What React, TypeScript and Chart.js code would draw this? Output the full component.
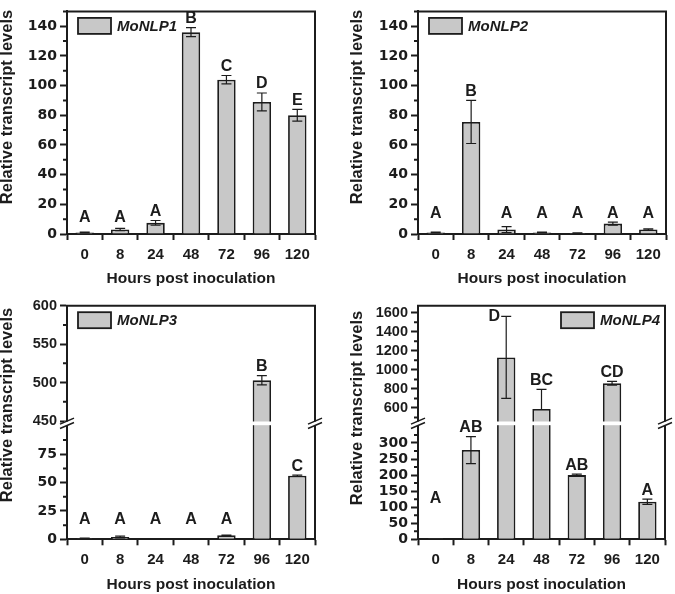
import React, { useEffect, useRef } from 'react';
import { Chart, registerables } from 'chart.js';

Chart.register(...registerables);

const FONT = '"Liberation Sans", Arial, Helvetica, sans-serif';
const WIDE_FONT = '"DejaVu Sans", "Liberation Sans", Arial, sans-serif';
const INK = '#1c1c1c';
const FILL = '#c8c8c8';

const hours = ['0', '8', '24', '48', '72', '96', '120'];
const xTitle = 'Hours post inoculation';
const yTitle = 'Relative transcript levels';

// MoNLP1
const nlp1Values = [1.0, 3.0, 7.5, 136, 104, 89, 80];
const nlp1ErrPlus = [0.3, 0.8, 1.6, 3, 2.8, 6, 4];
const nlp1ErrMinus = [0.3, 0.8, 1.6, 3, 2.8, 6, 4];
const nlp1Letters = ['A', 'A', 'A', 'B', 'C', 'D', 'E'];

// MoNLP2
const nlp2Values = [1.0, 75.5, 3.0, 1.0, 0.6, 7.0, 3.0];
const nlp2ErrPlus = [0.2, 14.5, 2.0, 0.3, 0.2, 1.0, 0.5];
const nlp2ErrMinus = [0.2, 14.5, 2.0, 0.3, 0.2, 1.0, 0.5];
const nlp2Letters = ['A', 'B', 'A', 'A', 'A', 'A', 'A'];

// MoNLP3
const nlp3Values = [0.8, 2.0, 0.4, 0.4, 3.5, 503, 56];
const nlp3ErrPlus = [0.2, 0.8, 0.1, 0.1, 0.3, 6, 0.6];
const nlp3ErrMinus = [0.2, 0.8, 0.1, 0.1, 0.3, 6, 0.6];
const nlp3Letters = ['A', 'A', 'A', 'A', 'A', 'B', 'C'];

// MoNLP4
const nlp4Values = [1, 278, 1130, 590, 200, 860, 117];
const nlp4ErrPlus = [0, 42, 430, 205, 3, 20, 8];
const nlp4ErrMinus = [0, 42, 430, 0, 3, 20, 8];
const nlp4Letters = ['A', 'AB', 'D', 'BC', 'AB', 'CD', 'A'];

// tick values
const ticks12Major = [0, 20, 40, 60, 80, 100, 120, 140];
const ticks12Minor = [10, 30, 50, 70, 90, 110, 130, 150];
const nlp3HiMajor = [450, 500, 550, 600];
const nlp3HiMinor = [475, 525, 575];
const nlp3LoMajor = [0, 25, 50, 75];
const nlp3LoMinor = [12.5, 37.5, 62.5, 87.5];
const nlp4HiMajor = [600, 800, 1000, 1200, 1400, 1600];
const nlp4HiMinor = [500, 700, 900, 1100, 1300, 1500];
const nlp4LoMajor = [0, 50, 100, 150, 200, 250, 300];
const nlp4LoMinor = [25, 75, 125, 175, 225, 275, 325];

type Seg = { min: number; max: number; major: number[]; minor: number[]; weight?: number; narrow?: boolean };
type PanelDef = {
  label: string;
  values: number[];
  errPlus: number[];
  errMinus: number[];
  letters: string[];
  letterFloor: number;
  segs: Seg[];
  left: number;
  top: number;
  width: number;
  height: number;
  pad: { left: number; top: number; right: number; bottom: number };
  yWidth: number;
  xHeight: number;
  yTitleY: number;
  legendRight: boolean;
};

const panels: PanelDef[] = [
  {
    label: 'MoNLP1', values: nlp1Values, errPlus: nlp1ErrPlus, errMinus: nlp1ErrMinus, letters: nlp1Letters,
    letterFloor: 11,
    segs: [{ min: 0, max: 150, major: ticks12Major, minor: ticks12Minor }],
    left: 0, top: 0, width: 337, height: 292,
    pad: { left: 0, top: 1, right: 22, bottom: 3.6 }, yWidth: 67, xHeight: 54.4, yTitleY: 107, legendRight: false,
  },
  {
    label: 'MoNLP2', values: nlp2Values, errPlus: nlp2ErrPlus, errMinus: nlp2ErrMinus, letters: nlp2Letters,
    letterFloor: 14,
    segs: [{ min: 0, max: 150, major: ticks12Major, minor: ticks12Minor }],
    left: 337, top: 0, width: 338, height: 292,
    pad: { left: 13, top: 1, right: 9, bottom: 3.6 }, yWidth: 68, xHeight: 54.4, yTitleY: 107, legendRight: false,
  },
  {
    label: 'MoNLP3', values: nlp3Values, errPlus: nlp3ErrPlus, errMinus: nlp3ErrMinus, letters: nlp3Letters,
    letterFloor: 17,
    segs: [
      { min: 447.4, max: 600, major: nlp3HiMajor, minor: nlp3HiMinor, weight: 117.3, narrow: true },
      { min: 0, max: 102.6, major: nlp3LoMajor, minor: nlp3LoMinor, weight: 116.3 },
    ],
    left: 0, top: 292, width: 337, height: 302,
    pad: { left: 0, top: 13.7, right: 22, bottom: 0.3 }, yWidth: 67, xHeight: 54.4, yTitleY: 113, legendRight: false,
  },
  {
    label: 'MoNLP4', values: nlp4Values, errPlus: nlp4ErrPlus, errMinus: nlp4ErrMinus, letters: nlp4Letters,
    letterFloor: 128,
    segs: [
      { min: 442.6, max: 1673, major: nlp4HiMajor, minor: nlp4HiMinor, weight: 117.3, narrow: true },
      { min: 0, max: 362.3, major: nlp4LoMajor, minor: nlp4LoMinor, weight: 116.3 },
    ],
    left: 337, top: 292, width: 338, height: 302,
    pad: { left: 13, top: 13.7, right: 10, bottom: 0.3 }, yWidth: 68, xHeight: 54.4, yTitleY: 116, legendRight: true,
  },
];

const tickFont = { family: FONT, size: 15, weight: 'bold' as const, lineHeight: 1.2 };
const yTickFont = { family: WIDE_FONT, size: 14, weight: 'bold' as const, lineHeight: 1.2 };
const yTickFontNarrow = { family: FONT, size: 14.5, weight: 'bold' as const, lineHeight: 1.2 };
const xTitleFont = { family: FONT, size: 15.5, weight: 'bold' as const, lineHeight: 1.2 };

function makeConfig(p: PanelDef): any {
  const broken = p.segs.length === 2;

  const yAxis = (seg: Seg) => ({
    type: 'linear',
    position: 'left',
    min: seg.min,
    max: seg.max,
    afterBuildTicks: (s: any) => {
      s.ticks = seg.major.map((v) => ({ value: v }));
    },
    ticks: {
      color: INK,
      font: seg.narrow ? yTickFontNarrow : yTickFont,
      padding: 3,
      autoSkip: false,
      callback: (v: any) => String(v),
    },
    grid: { display: true, drawOnChartArea: false, drawTicks: true, tickLength: 7, tickWidth: 2, tickColor: INK },
    border: { display: true, color: INK, width: 2 },
    afterFit: (s: any) => {
      s.width = p.yWidth;
    },
  });

  const scales: any = {
    x: {
      type: 'category',
      offset: true,
      grid: { display: true, offset: true, drawOnChartArea: false, tickLength: 6, tickWidth: 2, tickColor: INK },
      border: { display: true, color: INK, width: 2 },
      ticks: { color: INK, font: tickFont, padding: 6, autoSkip: false, maxRotation: 0 },
      title: { display: true, text: xTitle, color: INK, font: xTitleFont, padding: { top: 0, bottom: 0 } },
      afterFit: (s: any) => {
        s.height = p.xHeight;
      },
    },
  };

  const barDs = (data: (number | null)[], yAxisID: string) => ({
    label: p.label,
    data,
    yAxisID,
    backgroundColor: FILL,
    borderColor: INK,
    borderWidth: 1.8,
    borderSkipped: 'start',
    barPercentage: 0.52,
    categoryPercentage: 1,
    grouped: false,
  });

  let datasets: any[];
  if (!broken) {
    scales.y = yAxis(p.segs[0]);
    datasets = [barDs(p.values, 'y')];
  } else {
    const hi = p.segs[0];
    const lo = p.segs[1];
    // in a left stack the first declared axis is placed at the bottom
    scales.yLo = { ...yAxis(lo), stack: 'brk', stackWeight: lo.weight };
    scales.yHi = { ...yAxis(hi), stack: 'brk', stackWeight: hi.weight };
    datasets = [
      barDs(p.values.map((v) => Math.min(v, lo.max)), 'yLo'),
      barDs(p.values.map((v) => (v > hi.min ? v : null)), 'yHi'),
    ];
  }

  const pix = (chart: any, v: number) => {
    if (!broken) return chart.scales.y.getPixelForValue(v);
    const hi = p.segs[0];
    const lo = p.segs[1];
    if (v >= hi.min) return chart.scales.yHi.getPixelForValue(Math.min(v, hi.max));
    return chart.scales.yLo.getPixelForValue(Math.min(v, lo.max));
  };

  const decor = {
    id: 'decor',
    afterDatasetsDraw(chart: any) {
      const ctx = chart.ctx as CanvasRenderingContext2D;
      const { left, right, top, bottom } = chart.chartArea;
      const xs = chart.scales.x;
      ctx.save();

      // frame (top + right)
      ctx.strokeStyle = INK;
      ctx.lineWidth = 2;
      ctx.beginPath();
      ctx.moveTo(left - 1, top);
      ctx.lineTo(right, top);
      ctx.lineTo(right, bottom + 1);
      ctx.stroke();

      // minor ticks
      const segScales = broken ? [chart.scales.yHi, chart.scales.yLo] : [chart.scales.y];
      segScales.forEach((sc: any, k: number) => {
        ctx.beginPath();
        p.segs[k].minor.forEach((v) => {
          const y = sc.getPixelForValue(v);
          ctx.moveTo(left - 4, y);
          ctx.lineTo(left, y);
        });
        ctx.stroke();
      });

      // error bars
      ctx.lineWidth = 1.2;
      ctx.beginPath();
      p.values.forEach((v, i) => {
        const up = p.errPlus[i];
        const dn = p.errMinus[i];
        if (!up && !dn) return;
        const x = xs.getPixelForValue(i);
        const yT = pix(chart, v + up);
        const yB = pix(chart, v - dn);
        ctx.moveTo(x, yB);
        ctx.lineTo(x, yT);
        if (up) {
          ctx.moveTo(x - 5, yT);
          ctx.lineTo(x + 5, yT);
        }
        if (dn) {
          ctx.moveTo(x - 5, yB);
          ctx.lineTo(x + 5, yB);
        }
      });
      ctx.stroke();

      // axis break
      if (broken) {
        const b = chart.scales.yLo.top;
        ctx.fillStyle = '#ffffff';
        ctx.fillRect(left - 3, b - 1.5, right - left + 6, 3.7);
        ctx.strokeStyle = INK;
        ctx.lineWidth = 1.5;
        ctx.beginPath();
        [left, right].forEach((ax) => {
          [-2.2, 2.2].forEach((d) => {
            ctx.moveTo(ax - 7, b + 0.3 + d + 3);
            ctx.lineTo(ax + 7, b + 0.3 + d - 3);
          });
        });
        ctx.stroke();
      }

      // letters
      ctx.fillStyle = INK;
      ctx.font = `bold 16px ${FONT}`;
      ctx.textAlign = 'center';
      ctx.textBaseline = 'middle';
      p.letters.forEach((t, i) => {
        const v = p.values[i];
        const xc = xs.getPixelForValue(i);
        const capY = pix(chart, v + p.errPlus[i]);
        let y = Math.min(capY - 9, pix(chart, p.letterFloor));
        let x = xc;
        if (y - 7 < top - 1) {
          x = xc - 12;
          y = capY;
        }
        ctx.fillText(t, x, y);
      });
      ctx.restore();
    },
    afterDraw(chart: any) {
      const ctx = chart.ctx as CanvasRenderingContext2D;
      const { left, right, top } = chart.chartArea;
      ctx.save();
      // y title
      ctx.fillStyle = INK;
      ctx.font = `bold 16.5px ${FONT}`;
      ctx.textAlign = 'center';
      ctx.textBaseline = 'middle';
      ctx.translate(p.pad.left + 7, p.yTitleY);
      ctx.rotate(-Math.PI / 2);
      ctx.fillText(yTitle, 0, 0);
      ctx.restore();

      // legend
      ctx.save();
      ctx.font = `italic bold 15px ${FONT}`;
      const label = chart.data.datasets[0].label as string;
      const tw = ctx.measureText(label).width;
      const boxW = 33;
      const boxH = 16;
      const boxTop = top + 6.5;
      let boxLeft: number;
      let textLeft: number;
      if (p.legendRight) {
        textLeft = right - 5 - tw;
        boxLeft = textLeft - 6 - boxW;
      } else {
        boxLeft = left + 11;
        textLeft = boxLeft + boxW + 6;
      }
      ctx.fillStyle = FILL;
      ctx.fillRect(boxLeft, boxTop, boxW, boxH);
      ctx.strokeStyle = INK;
      ctx.lineWidth = 1.8;
      ctx.strokeRect(boxLeft, boxTop, boxW, boxH);
      ctx.fillStyle = INK;
      ctx.textAlign = 'left';
      ctx.textBaseline = 'middle';
      ctx.fillText(label, textLeft, boxTop + boxH / 2 + 0.5);
      ctx.restore();
    },
  };

  return {
    type: 'bar',
    data: { labels: hours, datasets },
    options: {
      responsive: false,
      animation: false,
      events: [],
      layout: { padding: p.pad },
      plugins: { legend: { display: false }, tooltip: { enabled: false }, title: { display: false } },
      scales,
    },
    plugins: [decor],
  };
}

function Panel({ def }: { def: PanelDef }) {
  const ref = useRef<HTMLCanvasElement | null>(null);
  useEffect(() => {
    if (!ref.current) return;
    const chart = new Chart(ref.current, makeConfig(def));
    return () => chart.destroy();
  }, [def]);
  return (
    <canvas
      ref={ref}
      width={def.width}
      height={def.height}
      style={{ position: 'absolute', left: def.left, top: def.top, width: def.width, height: def.height }}
    />
  );
}

export default function App() {
  return (
    <div style={{ position: 'absolute', left: 0, top: 0, width: 675, height: 594, background: '#ffffff' }}>
      {panels.map((p) => (
        <Panel key={p.label} def={p} />
      ))}
    </div>
  );
}
